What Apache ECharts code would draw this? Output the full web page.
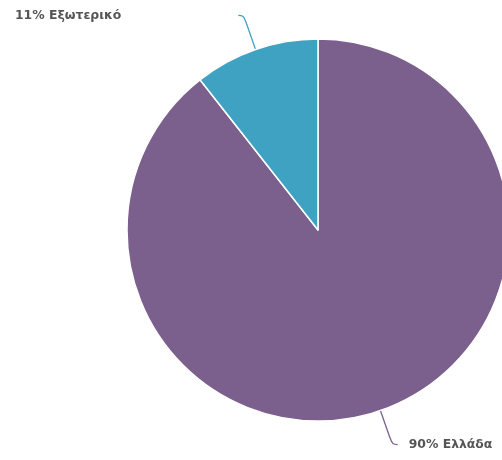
<!DOCTYPE html>
<html><head><meta charset="utf-8">
<script src="https://cdn.jsdelivr.net/npm/echarts@6/dist/echarts.min.js"></script>
<style>html,body{margin:0;padding:0;background:#fff}#c{width:502px;height:460px}</style>
</head><body><div id="c"></div>
<script>
var categories = ['Ελλάδα', 'Εξωτερικό'];
var values = [89.4, 10.6];
var labelPercents = [90, 11];
var colors = ['#7b5f8c', '#40a2c2'];

var chart = echarts.init(document.getElementById('c'), null, {renderer: 'canvas'});
chart.setOption({
  animation: false,
  series: [{
    type: 'pie',
    center: [318, 230],
    radius: 191,
    startAngle: 90,
    clockwise: true,
    data: categories.map(function (n, i) {
      return {
        name: n, value: values[i], itemStyle: {color: colors[i]},
        label: i === 1 ? {padding: [6, 106, 0, 0]} : {padding: [6, 0, 0, 0]}
      };
    }),
    itemStyle: {borderColor: '#fff', borderWidth: 1.5},
    label: {
      show: true,
      formatter: function (p) { return labelPercents[p.dataIndex] + '% ' + p.name; },
      fontFamily: 'DejaVu Sans',
      fontWeight: 'bold',
      fontSize: 12.4,
      color: '#555',
      overflow: 'none',
      width: 200,
      distanceToLabelLine: 11
    },
    labelLine: {show: true, length: 36, length2: 5.5, smooth: 0.4, lineStyle: {width: 1.3}},
    emphasis: {disabled: true}
  }]
});
</script></body></html>
